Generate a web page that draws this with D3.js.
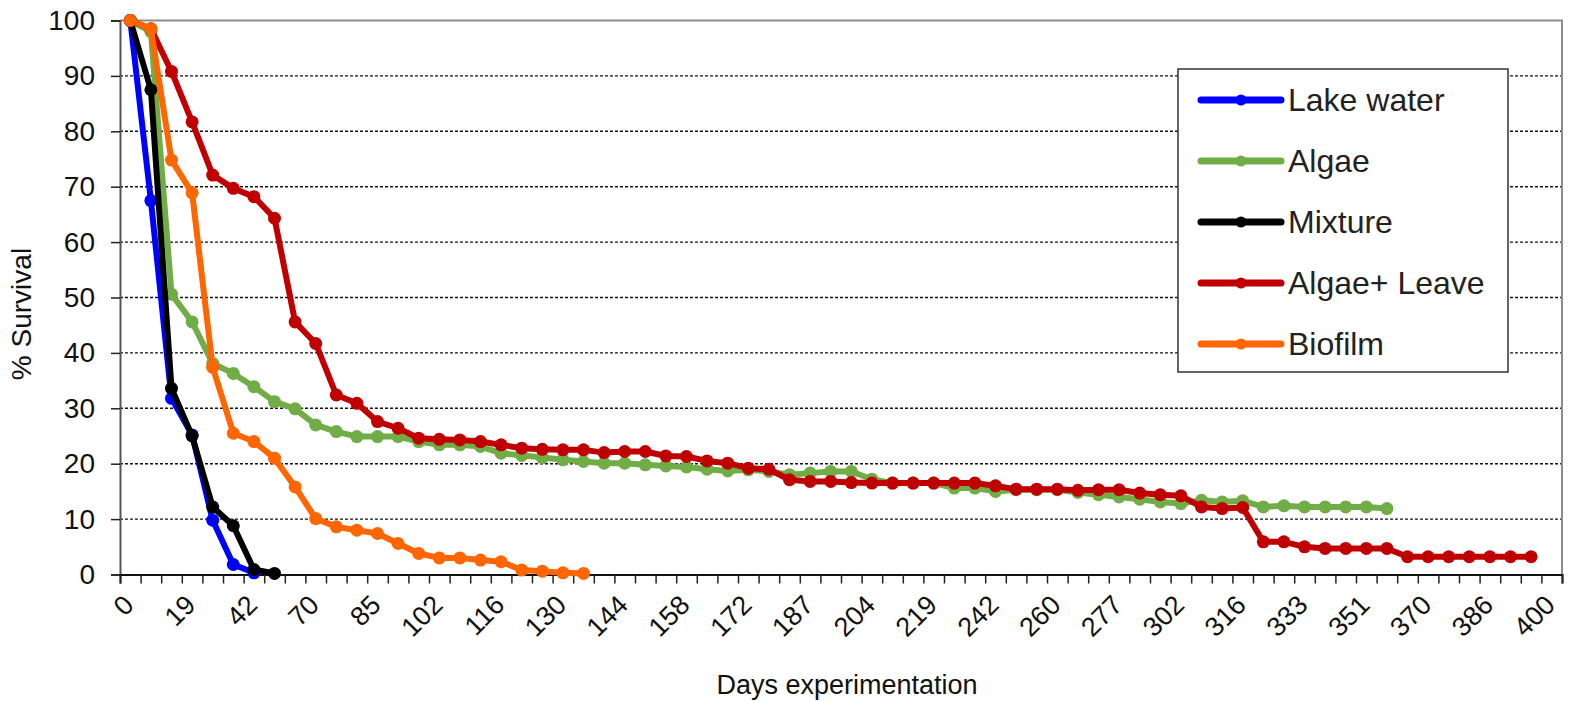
<!DOCTYPE html>
<html>
<head>
<meta charset="utf-8">
<script src="https://cdn.jsdelivr.net/npm/d3@7"></script>
<style>
  body { margin: 0; background: #fff; }
  svg text { font-family: 'Liberation Sans', Arial, sans-serif; }
</style>
</head>
<body>
<div id="root"></div>
<script>
// categories: 70 sampling points, only every 3rd one carries a label
const categories = d3.range(70);
const labelEvery = 3;
const dayLabels = ['0', '19', '42', '70', '85', '102', '116', '130', '144', '158', '172', '187',
  '204', '219', '242', '260', '277', '302', '316', '333', '351', '370', '386', '400'];
const yTicks = [0, 10, 20, 30, 40, 50, 60, 70, 80, 90, 100];

const seriesNames = ['Lake water', 'Algae', 'Mixture', 'Algae+ Leave', 'Biofilm'];
const seriesColors = ['#0000ff', '#70ad47', '#000000', '#c00000', '#ff6600'];

const lakeWater = [100, 67.5, 31.8, 25.2, 9.8, 1.8, 0.3];
const algae = [100, 98, 50.6, 45.6, 38.1, 36.3, 33.9, 31.2, 29.9, 27, 25.8, 24.9, 24.9, 24.9,
  24, 23.4, 23.4, 23.1, 21.9, 21.5, 21.1, 20.7, 20.4, 20.1, 20.1, 19.8, 19.6, 19.4, 19, 18.7,
  18.9, 18.6, 18, 18.3, 18.6, 18.6, 17.2, 16.5, 16.5, 16.5, 15.6, 15.6, 15, 15.3, 15.3, 15.3,
  14.8, 14.4, 14, 13.6, 13.1, 12.8, 13.4, 13.1, 13.3, 12.2, 12.4, 12.2, 12.2, 12.2, 12.2, 11.9];
const mixture = [100, 87.5, 33.6, 25, 12.2, 8.8, 0.9, 0.2];
const algaeLeave = [100, 98.5, 90.8, 81.7, 72.1, 69.7, 68.2, 64.3, 45.6, 41.7, 32.4, 30.9, 27.6,
  26.4, 24.6, 24.4, 24.3, 24, 23.4, 22.8, 22.6, 22.5, 22.5, 22, 22.2, 22.2, 21.4, 21.3, 20.5,
  20.1, 19.2, 19, 17.1, 16.8, 16.8, 16.6, 16.5, 16.5, 16.5, 16.5, 16.5, 16.5, 16, 15.4, 15.4,
  15.4, 15.2, 15.3, 15.3, 14.7, 14.4, 14.2, 12.2, 11.9, 12.1, 5.9, 5.9, 5, 4.7, 4.7, 4.7, 4.7,
  3.2, 3.2, 3.2, 3.2, 3.2, 3.2, 3.2];
const biofilm = [100, 98.5, 74.8, 68.9, 37.4, 25.5, 24, 21, 15.8, 10.1, 8.6, 8, 7.4, 5.6, 3.8,
  3, 3, 2.6, 2.3, 0.8, 0.6, 0.3, 0.2];

const seriesValues = [lakeWater, algae, mixture, algaeLeave, biofilm];

//-----------------------------------------------------------------------
const width = 1569;
const height = 701;
const plotLeft = 120;
const plotRight = 1562;
const plotTop = 20.5;
const plotBottom = 574.5;

const svg = d3.select('#root')
  .append('svg')
  .attr('width', width)
  .attr('height', height);

const xScale = d3.scaleBand()
  .domain(categories)
  .range([plotLeft, plotRight]);
const xTickScale = d3.scaleLinear()
  .domain([0, categories.length])
  .range([plotLeft, plotRight]);
const yScale = d3.scaleLinear()
  .domain([0, 100])
  .range([plotBottom, plotTop]);

// gridlines
svg.append('g')
  .selectAll('line')
  .data(yTicks.filter((d) => d > 0 && d < 100))
  .enter()
  .append('line')
  .attr('x1', plotLeft)
  .attr('x2', plotRight)
  .attr('y1', (d) => yScale(d))
  .attr('y2', (d) => yScale(d))
  .attr('stroke', '#111')
  .attr('stroke-width', 1.4)
  .attr('stroke-dasharray', '3,2');

// plot frame top / right
svg.append('path')
  .attr('d', `M${plotLeft},${yScale(100)}H${plotRight}V${plotBottom}`)
  .attr('fill', 'none')
  .attr('stroke', '#8c8c8c')
  .attr('stroke-width', 2);

// y axis
const yAxis = d3.axisLeft(yScale)
  .tickValues(yTicks)
  .tickSize(9)
  .tickPadding(16);
const yAxisG = svg.append('g')
  .attr('transform', `translate(${plotLeft}, 0)`)
  .call(yAxis);
yAxisG.select('.domain').attr('stroke', '#555').attr('stroke-width', 2);
yAxisG.selectAll('.tick line').attr('stroke', '#222').attr('stroke-width', 1.5);
yAxisG.selectAll('.tick text')
  .style('font-size', '28px')
  .attr('fill', '#111');

// x axis tick marks (between categories)
const xTickAxis = d3.axisBottom(xTickScale)
  .tickValues(d3.range(categories.length + 1))
  .tickSize(9)
  .tickFormat('');
const xTickG = svg.append('g')
  .attr('transform', `translate(0, ${plotBottom})`)
  .call(xTickAxis);
xTickG.select('.domain').attr('stroke', '#111').attr('stroke-width', 2);
xTickG.selectAll('.tick line').attr('stroke', '#222').attr('stroke-width', 1.5);

// x axis labels (every 3rd category)
const xAxis = d3.axisBottom(xScale)
  .tickValues(categories.filter((d) => d % labelEvery === 0))
  .tickSize(0)
  .tickFormat((d) => dayLabels[d / labelEvery]);
const xAxisG = svg.append('g')
  .attr('transform', `translate(0, ${plotBottom})`)
  .call(xAxis);
xAxisG.select('.domain').remove();
xAxisG.selectAll('.tick text')
  .attr('x', 0)
  .attr('y', 0)
  .attr('dy', 0)
  .attr('text-anchor', 'end')
  .attr('transform', 'translate(5, 32) rotate(-45)')
  .style('font-size', '27px')
  .attr('fill', '#111');

// axis titles
svg.append('text')
  .attr('x', 847)
  .attr('y', 694)
  .attr('text-anchor', 'middle')
  .style('font-size', '27px')
  .attr('fill', '#111')
  .text('Days experimentation');

svg.append('text')
  .attr('transform', 'translate(31, 314) rotate(-90)')
  .attr('text-anchor', 'middle')
  .style('font-size', '28px')
  .attr('fill', '#111')
  .text('% Survival');

// series
const line = d3.line()
  .x((d, i) => xScale(i) + xScale.bandwidth() / 2)
  .y((d) => yScale(d));

seriesValues.forEach((values, k) => {
  const g = svg.append('g').attr('class', 'series');
  g.append('path')
    .datum(values)
    .attr('d', line)
    .attr('fill', 'none')
    .attr('stroke', seriesColors[k])
    .attr('stroke-width', 6)
    .attr('stroke-linejoin', 'round');
  g.selectAll('circle')
    .data(values)
    .enter()
    .append('circle')
    .attr('cx', (d, i) => xScale(i) + xScale.bandwidth() / 2)
    .attr('cy', (d) => yScale(d))
    .attr('r', 6.5)
    .attr('fill', seriesColors[k]);
});

// legend
const legend = svg.append('g').attr('class', 'legend');
legend.append('rect')
  .attr('x', 1178)
  .attr('y', 69)
  .attr('width', 330)
  .attr('height', 303)
  .attr('fill', '#fff')
  .attr('stroke', '#333')
  .attr('stroke-width', 1.5);

const legendItem = legend.selectAll('.item')
  .data(seriesNames)
  .enter()
  .append('g')
  .attr('class', 'item')
  .attr('transform', (d, i) => `translate(1201, ${100 + i * 61})`);
legendItem.append('line')
  .attr('x1', 0)
  .attr('x2', 80)
  .attr('stroke', (d, i) => seriesColors[i])
  .attr('stroke-width', 7)
  .attr('stroke-linecap', 'round');
legendItem.append('circle')
  .attr('cx', 40)
  .attr('r', 5.5)
  .attr('fill', (d, i) => seriesColors[i]);
legendItem.append('text')
  .attr('x', 87)
  .attr('y', 0)
  .attr('dominant-baseline', 'central')
  .style('font-size', '32px')
  .attr('fill', '#222')
  .text((d) => d);
</script>
</body>
</html>
